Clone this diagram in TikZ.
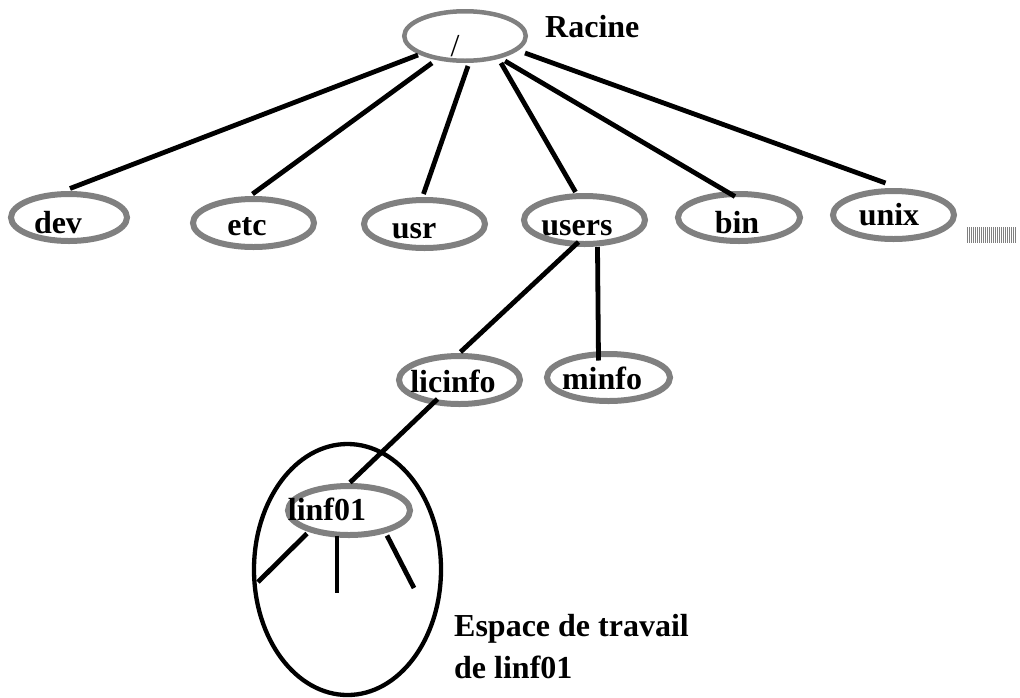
\documentclass[tikz,border=0pt]{standalone}
\usepackage{fontspec}
\setmainfont{Liberation Serif}
\usetikzlibrary{shapes.geometric,calc}
\begin{document}
\begin{tikzpicture}[x=1pt,y=-1pt,
  folder/.style={draw=gray, ellipse, line width=6pt, inner sep=0pt,
                 minimum width=121pt, minimum height=48pt},
  link/.style={line width=4.8pt, black},
  lbl/.style={font=\fontsize{32}{38}\selectfont\bfseries, inner sep=0pt, anchor=base},
  zone/.style={draw=black, ellipse, line width=4.3pt, inner sep=0pt}]

\useasboundingbox (0,0) rectangle (1020,697);

% directory ellipses
\node[folder, line width=4.5pt, minimum width=121.5pt, minimum height=49.5pt] (root) at (465,36) {};
\node[folder, minimum width=116pt, minimum height=47pt] (dev) at (69,217.5) {};
\node[folder] (etc)   at (253.5,223) {};
\node[folder] (usr)   at (424.5,224) {};
\node[folder] (users) at (584.5,220) {};
\node[folder, minimum width=122pt, minimum height=47pt] (bin) at (739,217.5) {};
\node[folder] (unix)  at (893.5,215) {};
\node[folder] (licinfo) at (459.5,380) {};
\node[folder, minimum width=123pt, minimum height=47pt] (minfo) at (608.5,377.5) {};
\node[folder, minimum width=122pt, minimum height=49pt] (linf01) at (349,510.5) {};

% workspace of linf01
\node[zone, minimum width=187pt, minimum height=251pt] (space) at (347.5,569.5) {};

% free ends of the sub-branches of linf01
\coordinate (sub2) at (337,593);
\coordinate (sub3) at (414,588);

% tree branches
\draw[link] ($(root)+(-47,19)$) -- ($(dev)+(1,-29)$);
\draw[link] ($(root)+(-33,27)$) -- ($(etc)+(-1,-29)$);
\draw[link] ($(root)+(3,30)$)   -- ($(usr)+(-1,-30)$);
\draw[link] ($(root)+(36,27)$)  -- ($(users)+(-9,-28)$);
\draw[link] ($(root)+(40,25)$)  -- ($(bin)+(-4,-21)$);
\draw[link] ($(root)+(60,17)$)  -- ($(unix)+(-8,-32)$);
\draw[link] ($(users)+(-6,22)$) -- ($(licinfo)+(1,-28)$);
\draw[link] ($(users)+(13,27)$) -- ($(minfo)+(-10,-17)$);
\draw[link] ($(licinfo)+(-22,19)$) -- ($(linf01)+(1,-28)$);
\draw[link] ($(linf01)+(-42,23)$) -- ($(space)+(-89.5,12.5)$);
\draw[link] ($(linf01)+(-12,25)$) -- (sub2);
\draw[link] ($(linf01)+(38,25)$)  -- (sub3);

% more entries
\foreach \i in {0,...,24}
  \draw[gray, line width=0.9pt] (967+2*\i,227) -- ++(0,16);

% labels
\node[lbl, font=\fontsize{32}{38}\selectfont] (troot) at (455,56) {/};
\node[lbl, anchor=base west] (racine) at (545,37) {Racine};
\node[lbl] (tdev)   at (58,233)  {dev};
\node[lbl] (tetc)   at (247,235) {etc};
\node[lbl] (tusr)   at (414,238) {usr};
\node[lbl] (tusers) at (577,235) {users};
\node[lbl] (tbin)   at (737,233) {bin};
\node[lbl] (tunix)  at (889,225) {unix};
\node[lbl] (tlic)   at (453,392) {licinfo};
\node[lbl] (tminfo) at (602,389) {minfo};
\node[lbl] (tlinf)  at (327,520) {linf01};
\node[lbl, anchor=base west] (esp1) at (454,636) {Espace de travail};
\node[lbl, anchor=base west] (esp2) at (454,678) {de linf01};
\end{tikzpicture}
\end{document}
